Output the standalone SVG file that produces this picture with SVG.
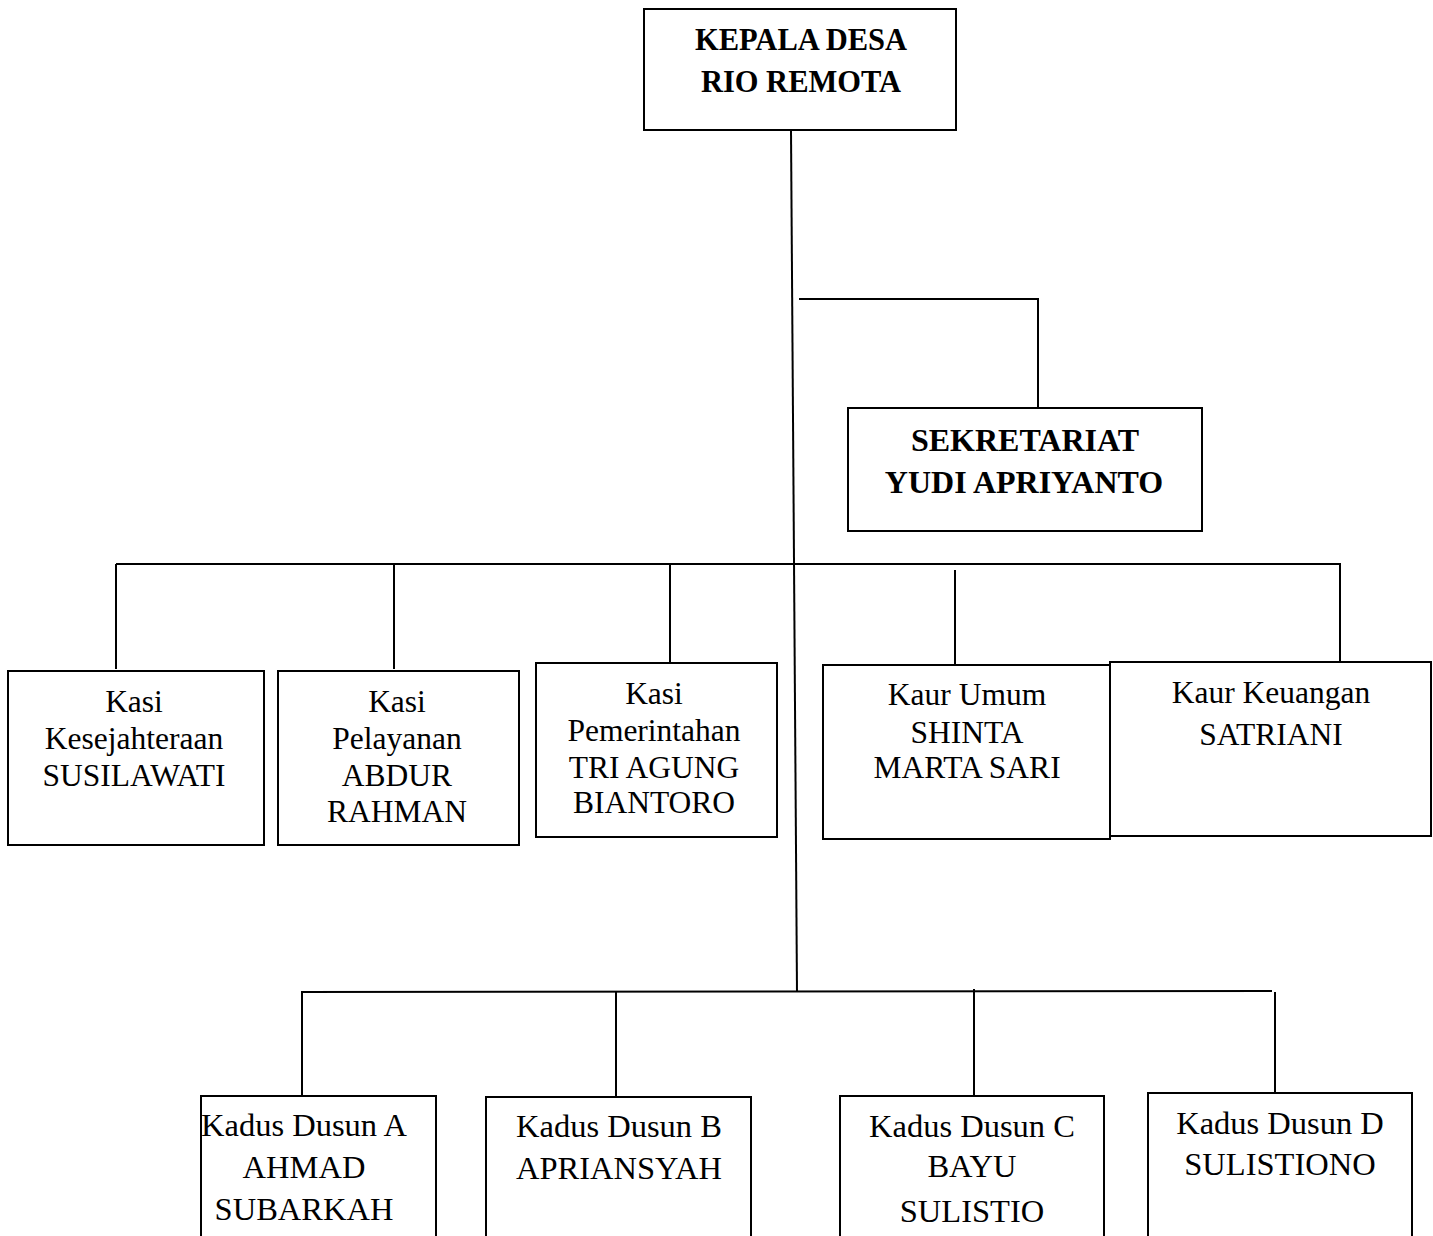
<svg xmlns="http://www.w3.org/2000/svg" width="1433" height="1236" viewBox="0 0 1433 1236">
<style>
.box{fill:#fff;stroke:#000;stroke-width:2}
.ln{fill:none;stroke:#000;stroke-width:2}
.b{font-family:"Liberation Serif","Times New Roman",serif;font-weight:bold;fill:#000;text-anchor:middle}
.t{font-family:"Liberation Serif","Times New Roman",serif;fill:#000;text-anchor:middle;font-size:31.5px}
.k{font-size:32.5px}
</style>
<rect width="1433" height="1236" fill="#fff"/>
<g id="connectors">
<line class="ln" x1="791" y1="131" x2="797" y2="992"/>
<polyline class="ln" points="799,299 1038,299 1038,412"/>
<line class="ln" x1="116" y1="564" x2="1341" y2="564"/>
<line class="ln" x1="116" y1="564" x2="116" y2="669"/>
<line class="ln" x1="394" y1="564" x2="394" y2="669"/>
<line class="ln" x1="670" y1="564" x2="670" y2="663"/>
<line class="ln" x1="955" y1="570" x2="955" y2="665"/>
<line class="ln" x1="1340" y1="564" x2="1340" y2="662"/>
<line class="ln" x1="301" y1="992" x2="1272" y2="991"/>
<line class="ln" x1="302" y1="992" x2="302" y2="1096"/>
<line class="ln" x1="616" y1="992" x2="616" y2="1097"/>
<line class="ln" x1="974" y1="989" x2="974" y2="1096"/>
<line class="ln" x1="1275" y1="992" x2="1275" y2="1093"/>
</g>
<g id="kepala">
<rect class="box" x="644" y="9" width="312" height="121"/>
<text class="b" font-size="30.5" x="801" y="50">KEPALA DESA</text>
<text class="b" font-size="30.5" x="801" y="92">RIO REMOTA</text>
</g>
<g id="sekretariat">
<rect class="box" x="848" y="408" width="354" height="123"/>
<text class="b" font-size="32" x="1025" y="451">SEKRETARIAT</text>
<text class="b" font-size="32" x="1024" y="493">YUDI APRIYANTO</text>
</g>
<g id="kasi-kesejahteraan">
<rect class="box" x="8" y="671" width="256" height="174"/>
<text class="t" x="134" y="712">Kasi</text>
<text class="t" x="134" y="749">Kesejahteraan</text>
<text class="t" x="134" y="786">SUSILAWATI</text>
</g>
<g id="kasi-pelayanan">
<rect class="box" x="278" y="671" width="241" height="174"/>
<text class="t" x="397" y="712">Kasi</text>
<text class="t" x="397" y="749">Pelayanan</text>
<text class="t" x="397" y="786">ABDUR</text>
<text class="t" x="397" y="822">RAHMAN</text>
</g>
<g id="kasi-pemerintahan">
<rect class="box" x="536" y="663" width="241" height="174"/>
<text class="t" x="654" y="704">Kasi</text>
<text class="t" x="654" y="741">Pemerintahan</text>
<text class="t" x="654" y="778">TRI AGUNG</text>
<text class="t" x="654" y="813">BIANTORO</text>
</g>
<g id="kaur-umum">
<rect class="box" x="823" y="665" width="287" height="174"/>
<text class="t" x="967" y="705">Kaur Umum</text>
<text class="t" x="967" y="743">SHINTA</text>
<text class="t" x="967" y="778">MARTA SARI</text>
</g>
<g id="kaur-keuangan">
<rect class="box" x="1110" y="662" width="321" height="174"/>
<text class="t" x="1271" y="703">Kaur Keuangan</text>
<text class="t" x="1271" y="745">SATRIANI</text>
</g>
<g id="kadus-a">
<rect class="box" x="201" y="1096" width="235" height="160"/>
<text class="t k" x="304" y="1136">Kadus Dusun A</text>
<text class="t k" x="304" y="1178">AHMAD</text>
<text class="t k" x="304" y="1220">SUBARKAH</text>
</g>
<g id="kadus-b">
<rect class="box" x="486" y="1097" width="265" height="160"/>
<text class="t k" x="619" y="1137">Kadus Dusun B</text>
<text class="t k" x="619" y="1179">APRIANSYAH</text>
</g>
<g id="kadus-c">
<rect class="box" x="840" y="1096" width="264" height="160"/>
<text class="t k" x="972" y="1137">Kadus Dusun C</text>
<text class="t k" x="972" y="1177">BAYU</text>
<text class="t k" x="972" y="1222">SULISTIO</text>
</g>
<g id="kadus-d">
<rect class="box" x="1148" y="1093" width="264" height="160"/>
<text class="t k" x="1280" y="1134">Kadus Dusun D</text>
<text class="t k" x="1280" y="1175">SULISTIONO</text>
</g>
</svg>
